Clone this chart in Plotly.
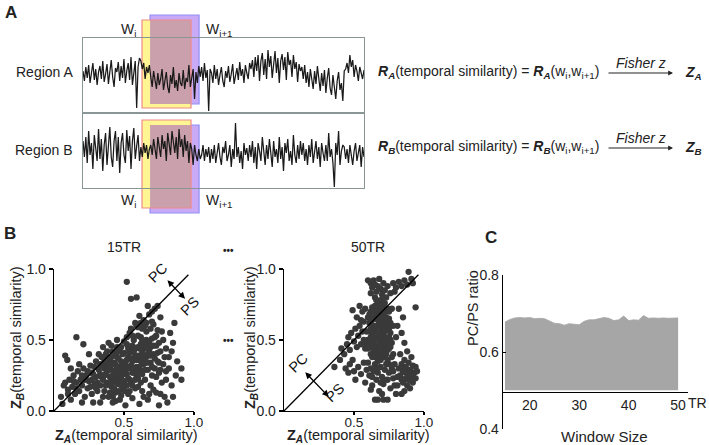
import plotly.graph_objects as go

W, H = 709, 445
FONT = "Arial, Liberation Sans, sans-serif"

def fx(px):
    return px / W

def fy(py):
    return 1 - py / H

# ---------------- Panel A data: BOLD time series (arbitrary units) ----------------
region_a = [4, -6, 8, -3, 10, -8, 2, 12, -5, 6, -10, 3, 9, -4, 14, -7, 1, 11, -9, 5,
            15, -2, -12, 7, 3, 13, -6, 9, -3, 16, -8, 4, 12, -5, 18, -10, 6, 14, -33, 8, 17,
            14, 6, 12, -4, 8, 2, 10,
            -2, -12, 4, -8, -14, 2, -10, -4, 6, -15, -6, 3, -12, -18, 0, -9, 8, -13, -5, -16,
            2, -8, -11, 5, -14, -3, -7, 10, -12, -4, 6, -24, 3, -8, 9, -2,
            8, -6, 12, -3, 5, -36, 6,
            2, -8, 10, -4, 6, -10, 0, 8, -6, -12, 4, -3, 9, -7, 1, 11, -9, -2, 7, -5,
            13, -1, 6, -8, 10, 2, -4, 12,
            6, 15, -2, 18, 4, 20, -6, 14, 22, 0, 16, -4, 25, 8, 19, -3, 12, 24, 2, 17,
            -8, 14, 21, 5, 18, -5, 23, 10, 15, -2, 20, 6, 13, -7, 11, 4,
            8, -4, 10, -8, 3, -12, 6, -2, -14, 4, -9, 9, -6, -16, 2, -11, 5, -18, -3, 7,
            -13, -20, 0, -10, -24, -6, 3, -15, -8, -26, 4,
            6, 12, 2, 20, 8, 15, -2, 10, 4, -6, 8, 2, -4, 5]
region_b = [10, -6, 14, -12, 20, -4, 8, -18, 16, 2, -10, 22, -8, 12, -20, 6, 18, -14, 4, 24,
            -6, -16, 10, 20, -10, 14, -22, 8, 18, -4, -12, 21, 0, 15, -18, 10, 23, -8, 5, 16, -10,
            4, -6, 8, -2, 6, -8, 2,
            6, -4, 12, 0, -8, 14, 4, -6, 16, 2, 10, -10, 18, 6, -4, 20, 8, -2, 14, -8,
            22, 4, 12, -6, 16, 0, 10, -12, 8, 2, -14, 6, -4, -10, 2, -8,
            -4, 6, -10, 2, -6, 4, -12,
            2, -8, 6, -12, 0, 8, -6, -14, 4, -2, 10, -10, -4, 6, -16, 2, -8, 28, -6, 4,
            -12, 0, -18, 8, -4, 3, -10, 6,
            -6, 10, -12, 4, -18, 8, 0, -10, 14, -4, -14, 6, -8, 12, -2, -16, 10, -6, 2, -12,
            14, -8, 4, -20, 8, -2, 12, -10, 0, -14, 16, -4, -12, 6, -8, 10,
            -4, 8, -10, 2, -14, 6, -6, 12, -12, 0, 10, -8, 4, -16, 8, -2, -10, 6, -10, 18,
            -6, 2, -12, -36, 8, -4, 20, -14, 0, 6, 4,
            -8, 2, -12, 6, -4, -14, 0, 8, -10, -2, 6, -16, 4, -6]
time_idx = list(range(len(region_a)))

# sliding windows (time index units)
win_i = (41.8, 76.5)
win_i1 = (47.5, 82.2)

# ---------------- Panel B data ----------------
pts_15tr = [
    (0.05, 0.10), (0.07, 0.18), (0.08, 0.20), (0.10, 0.15), (0.11, 0.22), (0.12, 0.08), (0.13, 0.17),
    (0.14, 0.25), (0.15, 0.12), (0.16, 0.20), (0.17, 0.28), (0.18, 0.14), (0.19, 0.22), (0.20, 0.18),
    (0.21, 0.30), (0.22, 0.10), (0.23, 0.25), (0.24, 0.16), (0.25, 0.21), (0.26, 0.32), (0.27, 0.12),
    (0.27, 0.27), (0.28, 0.06), (0.29, 0.19), (0.30, 0.24), (0.30, 0.35), (0.31, 0.14), (0.32, 0.29),
    (0.08, 0.39), (0.095, 0.36), (0.16, 0.52), (0.21, 0.47), (0.12, 0.30), (0.18, 0.33), (0.25, 0.40),
    (0.06, 0.05), (0.20, 0.06), (0.33, 0.06), (0.35, 0.10),
    (0.33, 0.18), (0.34, 0.38), (0.35, 0.22), (0.35, 0.45), (0.36, 0.30), (0.36, 0.14), (0.37, 0.26),
    (0.37, 0.40), (0.38, 0.20), (0.38, 0.33), (0.39, 0.10), (0.39, 0.48), (0.40, 0.24), (0.40, 0.36),
    (0.41, 0.17), (0.41, 0.29), (0.42, 0.42), (0.42, 0.06), (0.43, 0.21), (0.43, 0.34), (0.44, 0.13),
    (0.44, 0.27), (0.45, 0.50), (0.45, 0.38), (0.46, 0.19), (0.46, 0.31), (0.47, 0.08), (0.47, 0.44),
    (0.48, 0.24), (0.48, 0.35), (0.49, 0.15), (0.49, 0.28), (0.50, 0.41), (0.50, 0.21), (0.51, 0.33),
    (0.51, 0.04), (0.52, 0.47), (0.52, 0.26), (0.53, 0.12), (0.53, 0.38), (0.54, 0.30), (0.54, 0.55),
    (0.55, 0.20), (0.55, 0.43), (0.56, 0.35), (0.56, 0.09), (0.57, 0.27), (0.57, 0.50), (0.58, 0.16),
    (0.58, 0.39), (0.59, 0.31), (0.59, 0.60), (0.60, 0.45), (0.60, 0.23), (0.61, 0.36), (0.61, 0.05),
    (0.62, 0.52), (0.62, 0.28), (0.63, 0.41), (0.63, 0.14), (0.64, 0.33), (0.64, 0.64), (0.65, 0.47),
    (0.65, 0.22), (0.66, 0.38), (0.66, 0.56), (0.67, 0.29), (0.67, 0.08), (0.68, 0.43), (0.68, 0.68),
    (0.69, 0.34), (0.69, 0.18), (0.70, 0.51), (0.70, 0.25), (0.71, 0.40), (0.71, 0.61), (0.72, 0.30),
    (0.72, 0.72), (0.73, 0.46), (0.73, 0.13), (0.74, 0.35), (0.74, 0.57), (0.75, 0.27), (0.75, 0.04),
    (0.76, 0.42), (0.76, 0.66), (0.77, 0.20), (0.78, 0.50), (0.78, 0.33), (0.79, 0.10), (0.80, 0.44),
    (0.80, 0.28), (0.81, 0.06), (0.82, 0.38), (0.83, 0.55), (0.84, 0.18), (0.85, 0.48), (0.86, 0.62),
    (0.87, 0.25), (0.91, 0.30), (0.91, 0.22), (0.52, 0.91), (0.55, 0.79), (0.59, 0.80), (0.67, 0.74),
    (0.70, 0.70), (0.74, 0.74),
    (0.36, 0.25), (0.38, 0.28), (0.40, 0.31), (0.42, 0.25), (0.44, 0.33), (0.46, 0.27), (0.48, 0.30),
    (0.50, 0.26), (0.39, 0.19), (0.41, 0.22), (0.43, 0.16), (0.45, 0.23), (0.47, 0.20), (0.49, 0.34),
    (0.51, 0.29), (0.53, 0.23), (0.55, 0.32), (0.57, 0.36), (0.59, 0.25), (0.61, 0.31), (0.63, 0.26),
    (0.65, 0.34), (0.67, 0.40), (0.69, 0.45), (0.44, 0.40), (0.46, 0.37), (0.48, 0.45), (0.50, 0.49),
    (0.52, 0.36), (0.54, 0.41), (0.56, 0.46), (0.58, 0.44), (0.60, 0.39), (0.62, 0.47), (0.64, 0.44),
    (0.66, 0.50), (0.40, 0.13), (0.42, 0.10), (0.44, 0.07), (0.46, 0.14), (0.48, 0.11), (0.50, 0.17),
    (0.52, 0.18), (0.54, 0.14), (0.56, 0.18), (0.58, 0.22), (0.60, 0.17), (0.62, 0.20), (0.64, 0.10),
    (0.37, 0.34), (0.33, 0.26), (0.31, 0.20), (0.29, 0.31), (0.27, 0.22), (0.30, 0.16), (0.34, 0.32),
    (0.32, 0.40), (0.35, 0.38), (0.55, 0.58), (0.60, 0.53), (0.63, 0.58), (0.58, 0.62), (0.61, 0.67),
    (0.66, 0.62), (0.69, 0.58), (0.72, 0.52), (0.75, 0.48), (0.77, 0.56), (0.79, 0.38), (0.82, 0.30),
    (0.84, 0.42), (0.80, 0.22), (0.73, 0.24), (0.71, 0.15), (0.76, 0.12), (0.68, 0.12), (0.85, 0.10),
    (0.88, 0.35),
    (0.34, 0.24), (0.36, 0.36), (0.37, 0.18), (0.38, 0.42), (0.39, 0.30), (0.40, 0.20), (0.41, 0.38),
    (0.42, 0.33), (0.43, 0.27), (0.44, 0.20), (0.45, 0.30), (0.46, 0.42), (0.47, 0.26), (0.48, 0.18),
    (0.49, 0.40), (0.50, 0.33), (0.51, 0.14), (0.52, 0.31), (0.53, 0.44), (0.54, 0.22), (0.55, 0.37),
    (0.56, 0.27), (0.57, 0.42), (0.58, 0.30), (0.59, 0.36), (0.60, 0.28), (0.61, 0.44), (0.62, 0.35),
    (0.63, 0.50), (0.64, 0.38), (0.65, 0.29), (0.66, 0.44), (0.67, 0.34), (0.68, 0.48), (0.69, 0.39),
    (0.70, 0.31), (0.71, 0.46), (0.72, 0.37), (0.73, 0.53), (0.74, 0.41), (0.75, 0.34), (0.76, 0.29),
    (0.52, 0.52), (0.56, 0.53), (0.60, 0.59), (0.65, 0.60), (0.70, 0.63), (0.62, 0.62), (0.45, 0.45),
    (0.41, 0.46), (0.38, 0.37), (0.33, 0.33), (0.28, 0.26), (0.26, 0.17), (0.24, 0.28), (0.22, 0.22),
    (0.20, 0.25), (0.16, 0.16), (0.14, 0.21), (0.10, 0.12)]
pts_50tr = [
    (0.60, 0.92), (0.62, 0.90), (0.63, 0.87), (0.64, 0.92), (0.65, 0.89), (0.66, 0.84), (0.67, 0.88),
    (0.68, 0.93), (0.69, 0.86), (0.70, 0.82), (0.71, 0.90), (0.72, 0.85), (0.74, 0.88), (0.76, 0.83),
    (0.78, 0.90), (0.80, 0.87), (0.82, 0.91), (0.84, 0.88), (0.86, 0.92), (0.88, 0.89), (0.89, 0.98),
    (0.91, 0.93), (0.92, 0.90), (0.65, 0.80), (0.69, 0.78), (0.73, 0.80), (0.62, 0.83), (0.79, 0.84),
    (0.60, 0.50), (0.61, 0.62), (0.62, 0.45), (0.62, 0.70), (0.63, 0.55), (0.63, 0.38), (0.64, 0.66),
    (0.64, 0.48), (0.65, 0.58), (0.65, 0.74), (0.66, 0.42), (0.66, 0.52), (0.67, 0.64), (0.67, 0.35),
    (0.68, 0.56), (0.68, 0.71), (0.69, 0.46), (0.69, 0.60), (0.70, 0.68), (0.70, 0.40), (0.71, 0.53),
    (0.71, 0.75), (0.72, 0.62), (0.72, 0.44), (0.73, 0.57), (0.73, 0.70), (0.74, 0.50), (0.74, 0.36),
    (0.75, 0.65), (0.76, 0.55), (0.76, 0.45), (0.77, 0.72), (0.78, 0.60), (0.78, 0.40), (0.66, 0.60),
    (0.68, 0.50), (0.70, 0.58), (0.64, 0.60), (0.66, 0.68), (0.68, 0.63), (0.70, 0.52), (0.72, 0.66),
    (0.67, 0.46), (0.69, 0.54), (0.71, 0.48), (0.65, 0.44), (0.63, 0.64), (0.61, 0.56), (0.67, 0.72),
    (0.69, 0.76), (0.73, 0.62), (0.75, 0.58), (0.62, 0.58), (0.66, 0.38), (0.70, 0.44), (0.64, 0.52),
    (0.68, 0.40), (0.72, 0.52), (0.74, 0.43), (0.76, 0.50), (0.60, 0.66), (0.58, 0.72), (0.56, 0.70),
    (0.54, 0.74), (0.57, 0.63), (0.59, 0.56), (0.82, 0.72), (0.81, 0.60), (0.84, 0.55), (0.86, 0.48),
    (0.80, 0.52), (0.94, 0.73), (0.85, 0.66),
    (0.36, 0.31), (0.40, 0.36), (0.41, 0.44), (0.43, 0.40), (0.45, 0.47), (0.46, 0.52), (0.47, 0.43),
    (0.48, 0.55), (0.49, 0.71), (0.50, 0.49), (0.51, 0.58), (0.52, 0.45), (0.53, 0.53), (0.54, 0.60),
    (0.55, 0.47), (0.56, 0.56), (0.57, 0.50), (0.58, 0.44), (0.59, 0.47), (0.44, 0.30), (0.46, 0.27),
    (0.47, 0.33), (0.49, 0.36), (0.50, 0.28), (0.51, 0.22), (0.53, 0.31), (0.55, 0.26), (0.57, 0.34),
    (0.58, 0.20), (0.59, 0.29), (0.52, 0.66), (0.55, 0.64),
    (0.60, 0.34), (0.61, 0.25), (0.62, 0.30), (0.63, 0.18), (0.64, 0.28), (0.65, 0.33), (0.66, 0.22),
    (0.67, 0.27), (0.68, 0.14), (0.69, 0.31), (0.70, 0.24), (0.71, 0.19), (0.72, 0.29), (0.73, 0.33),
    (0.74, 0.22), (0.75, 0.27), (0.76, 0.16), (0.77, 0.30), (0.78, 0.23), (0.79, 0.18), (0.80, 0.12),
    (0.65, 0.08), (0.67, 0.08), (0.71, 0.08), (0.74, 0.08), (0.62, 0.15), (0.70, 0.12), (0.77, 0.38),
    (0.79, 0.33),
    (0.82, 0.30), (0.83, 0.25), (0.84, 0.33), (0.85, 0.20), (0.85, 0.28), (0.86, 0.36), (0.87, 0.23),
    (0.87, 0.31), (0.88, 0.18), (0.88, 0.27), (0.89, 0.34), (0.89, 0.22), (0.90, 0.29), (0.90, 0.16),
    (0.91, 0.25), (0.92, 0.32), (0.92, 0.20), (0.93, 0.27), (0.94, 0.23), (0.95, 0.28), (0.86, 0.14),
    (0.83, 0.40), (0.81, 0.18), (0.84, 0.12), (0.91, 0.38), (0.88, 0.42), (0.94, 0.31),
    (0.61, 0.68), (0.62, 0.52), (0.63, 0.73), (0.63, 0.47), (0.64, 0.56), (0.64, 0.42), (0.65, 0.65),
    (0.65, 0.50), (0.66, 0.74), (0.66, 0.46), (0.67, 0.56), (0.67, 0.68), (0.68, 0.45), (0.68, 0.76),
    (0.69, 0.64), (0.69, 0.50), (0.70, 0.72), (0.70, 0.62), (0.71, 0.58), (0.71, 0.43), (0.72, 0.70),
    (0.72, 0.56), (0.73, 0.47), (0.73, 0.66), (0.74, 0.60), (0.74, 0.72), (0.75, 0.52), (0.75, 0.44),
    (0.76, 0.62), (0.77, 0.48), (0.65, 0.38), (0.67, 0.41), (0.69, 0.36), (0.71, 0.38), (0.73, 0.40),
    (0.62, 0.40), (0.60, 0.44), (0.61, 0.49), (0.66, 0.78), (0.64, 0.70), (0.70, 0.78), (0.72, 0.76),
    (0.75, 0.70), (0.62, 0.64), (0.68, 0.67),
    (0.63, 0.24), (0.66, 0.30), (0.69, 0.20), (0.72, 0.22), (0.75, 0.33), (0.78, 0.28), (0.81, 0.24),
    (0.84, 0.22), (0.87, 0.27), (0.90, 0.22), (0.92, 0.25), (0.86, 0.30), (0.89, 0.26)]
diag_end = 0.96
scatter_ticks_x = [0.5, 1.0]
scatter_ticks_y = [0.0, 0.5, 1.0]

# ---------------- Panel C data ----------------
window_size = list(range(15, 51))
pc_ps_ratio = [0.678, 0.685, 0.689, 0.690, 0.689, 0.690, 0.687, 0.688, 0.687, 0.682,
               0.675, 0.674, 0.670, 0.674, 0.673, 0.671, 0.680, 0.684, 0.684, 0.687,
               0.690, 0.688, 0.682, 0.684, 0.694, 0.682, 0.684, 0.683, 0.695, 0.688,
               0.689, 0.688, 0.689, 0.688, 0.689, 0.689]
ratio_base = 0.5
c_ticks_x = [20, 30, 40, 50]
c_ticks_y = [0.4, 0.6, 0.8]

fig = go.Figure()

LINE_COL = "#1a1a1a"
fig.add_trace(go.Scatter(x=time_idx, y=region_a, mode="lines", xaxis="x", yaxis="y",
                         line=dict(color=LINE_COL, width=1.25), showlegend=False))
fig.add_trace(go.Scatter(x=time_idx, y=region_b, mode="lines", xaxis="x2", yaxis="y2",
                         line=dict(color=LINE_COL, width=1.25), showlegend=False))

DOT = "#3a3a3a"
for pts, xa, ya in [(pts_15tr, "x3", "y3"), (pts_50tr, "x4", "y4")]:
    fig.add_trace(go.Scatter(x=[p[0] for p in pts], y=[p[1] for p in pts], mode="markers",
                             xaxis=xa, yaxis=ya, cliponaxis=False,
                             marker=dict(color=DOT, size=6.3, line=dict(width=0)), showlegend=False))
    fig.add_trace(go.Scatter(x=[0, diag_end], y=[0, diag_end], mode="lines", xaxis=xa, yaxis=ya,
                             cliponaxis=False, line=dict(color="black", width=1.3), showlegend=False))

fig.add_trace(go.Scatter(x=window_size, y=[ratio_base] * len(window_size), mode="lines",
                         xaxis="x5", yaxis="y5", line=dict(width=0, color="#a6a6a6"), showlegend=False))
fig.add_trace(go.Scatter(x=window_size, y=pc_ps_ratio, mode="lines", fill="tonexty",
                         fillcolor="#a6a6a6", xaxis="x5", yaxis="y5",
                         line=dict(width=0.8, color="#a6a6a6"), showlegend=False))

box_line = dict(showline=True, mirror=True, linecolor="#8a9696", linewidth=1, automargin=False,
                showticklabels=False, ticks="", showgrid=False, zeroline=False)
sc_x = dict(range=[0, 1], showline=True, linecolor="black", linewidth=1.3, ticks="outside",
            ticklen=3, tickwidth=1.2, tickcolor="black", tickvals=scatter_ticks_x,
            ticktext=["0.5", "1.0"], showgrid=False, zeroline=False, automargin=False,
            ticklabelstandoff=-5, tickfont=dict(size=13.5, color="#222"))
sc_y = dict(range=[0, 1], showline=True, linecolor="black", linewidth=1.3, ticks="outside",
            ticklen=4, tickwidth=1.2, tickcolor="black", tickvals=scatter_ticks_y,
            ticktext=["0.0", "0.5", "1.0"], showgrid=False, zeroline=False, automargin=False,
            tickfont=dict(size=14, color="#222"))

fig.update_layout(
    template="none",
    width=W, height=H, margin=dict(l=0, r=0, t=0, b=0, pad=0, autoexpand=False),
    paper_bgcolor="white", plot_bgcolor="rgba(0,0,0,0)",
    font=dict(family=FONT, size=13, color="#222"),
    xaxis=dict(domain=[fx(83), fx(364)], range=[0, len(time_idx) - 1], anchor="y", **box_line),
    yaxis=dict(domain=[fy(112), fy(38)], range=[-37, 37], anchor="x", **box_line),
    xaxis2=dict(domain=[fx(83), fx(364)], range=[0, len(time_idx) - 1], anchor="y2", **box_line),
    yaxis2=dict(domain=[fy(188), fy(114)], range=[-37, 37], anchor="x2", **box_line),
    xaxis3=dict(domain=[fx(54), fx(194)], anchor="y3", **sc_x),
    yaxis3=dict(domain=[fy(411), fy(269)], anchor="x3", **sc_y),
    xaxis4=dict(domain=[fx(284), fx(424)], anchor="y4", **sc_x),
    yaxis4=dict(domain=[fy(411), fy(269)], anchor="x4", **sc_y),
    xaxis5=dict(domain=[fx(503), fx(688)], range=[14.6, 52], anchor="free", position=fy(392),
                showline=True, linecolor="black", linewidth=1.3, ticks="", tickvals=c_ticks_x,
                ticktext=["20", "30", "40", "50"], showgrid=False, zeroline=False,
                automargin=False, tickfont=dict(size=14, color="#222")),
    yaxis5=dict(domain=[fy(429), fy(275)], range=[0.399, 0.801], anchor="x5",
                showline=True, linecolor="black", linewidth=1.3, ticks="inside", ticklen=3,
                tickcolor="black", tickvals=c_ticks_y, ticktext=["0.4", "0.6", "0.8"],
                showgrid=False, zeroline=False, automargin=False,
                tickfont=dict(size=14, color="#222")),
)

# ---- window shapes (drawn below traces) ----
shapes = []
for (top_w1, bot_w1, top_wi, bot_wi) in [(15, 104, 20, 108), (125, 213, 120, 208)]:
    shapes.append(dict(type="rect", xref="x", yref="paper", x0=win_i1[0], x1=win_i1[1],
                       y0=fy(bot_w1), y1=fy(top_w1), fillcolor="#c9aaf7",
                       line=dict(color="#8f8ff5", width=1.2), layer="below"))
    shapes.append(dict(type="rect", xref="x", yref="paper", x0=win_i[0], x1=win_i[1],
                       y0=fy(bot_wi), y1=fy(top_wi), fillcolor="#fff592",
                       line=dict(width=0), layer="below"))
    shapes.append(dict(type="rect", xref="x", yref="paper", x0=win_i1[0], x1=win_i[1],
                       y0=fy(min(bot_w1, bot_wi)), y1=fy(max(top_w1, top_wi)),
                       fillcolor="#c9a0ab", line=dict(width=0), layer="below"))
    shapes.append(dict(type="rect", xref="x", yref="paper", x0=win_i[0], x1=win_i[1],
                       y0=fy(bot_wi), y1=fy(top_wi), fillcolor="rgba(0,0,0,0)",
                       line=dict(color="#f08a8a", width=1.2), layer="below"))
fig.update_layout(shapes=shapes)

ann = []

def text(px, py, s, size=13, xanchor="center", yanchor="middle", angle=0, color="#222"):
    ann.append(dict(x=fx(px), y=fy(py), xref="paper", yref="paper", text=s, showarrow=False,
                    xanchor=xanchor, yanchor=yanchor, textangle=angle,
                    font=dict(size=size, color=color, family=FONT)))

# panel letters
text(3, 12, "<b>A</b>", size=17, xanchor="left")
text(2, 233, "<b>B</b>", size=17, xanchor="left")
text(483, 237, "<b>C</b>", size=17, xanchor="left")

# Panel A labels
text(44, 72, "Region A", size=14)
text(44, 150, "Region B", size=14)
text(128, 30, "W<sub>i</sub>", size=14)
text(219, 30, "W<sub>i+1</sub>", size=14)
text(128, 201, "W<sub>i</sub>", size=14)
text(219, 201, "W<sub>i+1</sub>", size=14)

def rsym(letter, sub):
    return "<b><i>%s</i></b><sub><b><i>%s</i></b></sub>" % (letter, sub)

for row_y, sub in [(72, "A"), (147, "B")]:
    text(376, row_y, rsym("R", sub) + "(temporal similarity) = " + rsym("R", sub)
         + "(w<sub>i</sub>,w<sub>i+1</sub>)", size=14, xanchor="left")
    ann.append(dict(x=fx(673), y=fy(row_y + 1), xref="paper", yref="paper", text="",
                    showarrow=True, ax=-66, ay=0, arrowhead=2, arrowsize=0.8,
                    arrowwidth=1.2, arrowcolor="#222"))
    text(641, row_y - 9, "<i>Fisher z</i>", size=14)
    text(683, row_y + 1, rsym("Z", sub), size=14, xanchor="left")

# Panel B labels
text(124, 247, "15TR", size=14)
text(368, 247, "50TR", size=14)
text(228, 250, "<b>•••</b>", size=10)
text(228, 340, "<b>•••</b>", size=10)

za = "<b>Z</b><sub><b><i>A</i></b></sub>(temporal similarity)"
zb = "<b>Z</b><sub><b><i>B</i></b></sub>(temporal similarity)"
text(126, 436, za, size=14.5)
text(358, 436, za, size=14.5)
text(17, 338, zb, size=14.5, angle=-90)
text(251, 338, zb, size=14.5, angle=-90)

# PC / PS arrows
for xa, ya, hx, hy, axp, ayp in [("x3", "y3", 0.936, 0.79, -19, -20), ("x4", "y4", 0.32, 0.10, -25, -26)]:
    ann.append(dict(x=hx, y=hy, xref=xa, yref=ya, text="", showarrow=True, ax=axp, ay=ayp,
                    arrowhead=2, arrowside="end+start", arrowsize=1, arrowwidth=1.3,
                    arrowcolor="black"))
for xa, ya, x, y, s in [("x3", "y3", 0.74, 0.97, "PC"), ("x3", "y3", 0.97, 0.74, "PS"),
                        ("x4", "y4", 0.10, 0.34, "PC"), ("x4", "y4", 0.36, 0.13, "PS")]:
    ann.append(dict(x=x, y=y, xref=xa, yref=ya, text=s, showarrow=False,
                    textangle=-45, font=dict(size=14.5, color="#111", family=FONT)))

# Panel C labels
text(473, 308, "PC/PS ratio", size=14.5, angle=-90)
text(604, 436, "Window Size", size=15)
text(686, 403, "TR", size=14, xanchor="left")

fig.update_layout(annotations=ann)
fig.write_html(
    "out.html",
    config={"displayModeBar": False, "staticPlot": True},
    post_script=("var gd=document.getElementById('{plot_id}');"
                 "gd.style.position='fixed';gd.style.left='0px';gd.style.top='0px';"
                 "document.documentElement.style.margin='0';document.body.style.margin='0';"
                 "document.documentElement.style.overflow='hidden';"
                 "document.body.style.overflow='hidden';"),
)
